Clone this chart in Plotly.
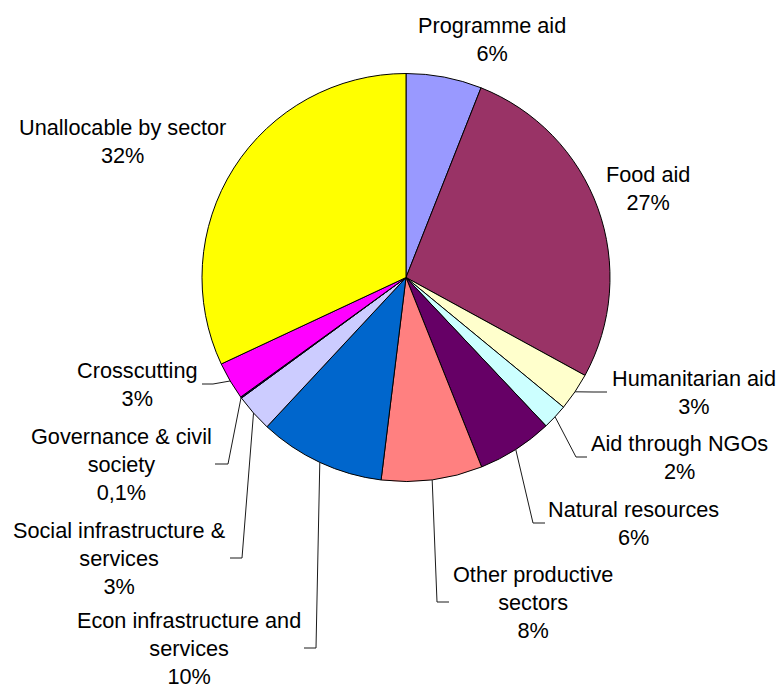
import math
import plotly.graph_objects as go

# ---- data -------------------------------------------------------------
sectors = [
    "Programme aid",
    "Food aid",
    "Humanitarian aid",
    "Aid through NGOs",
    "Natural resources",
    "Other productive sectors",
    "Econ infrastructure and services",
    "Social infrastructure & services",
    "Governance & civil society",
    "Crosscutting",
    "Unallocable by sector",
]
shares = [6, 27, 3, 2, 6, 8, 10, 3, 0.1, 3, 32]

# wrapped text shown next to each slice
label_text = [
    "Programme aid",
    "Food aid",
    "Humanitarian aid",
    "Aid through NGOs",
    "Natural resources",
    "Other productive<br>sectors",
    "Econ infrastructure and<br>services",
    "Social infrastructure &<br>services",
    "Governance & civil<br>society",
    "Crosscutting",
    "Unallocable by sector",
]

colors = [
    "#9999FF", "#993366", "#FFFFCC", "#CCFFFF", "#660066", "#FF8080",
    "#0066CC", "#CCCCFF", "#000080", "#FF00FF", "#FFFF00",
]

# ---- layout (pixels) --------------------------------------------------
W, H = 783, 690
CX, CY, R = 406, 277.5, 204

# label block centre (x, y) and leader line (elbow x, end x) or None
label_layout = [
    (492, 39, None),
    (647.5, 189, None),
    (693.7, 392, (593, 607)),
    (679.5, 457, (576, 587)),
    (633.8, 523, (533, 545)),
    (533, 602, (437, 449)),
    (188.5, 648, (316, 304)),
    (119.7, 558, (242, 230)),
    (121.5, 464, (228, 215)),
    (137, 384, (213, 202)),
    (122.8, 142, None),
]

FONT = "Liberation Sans, Arial, sans-serif"


def px(x):
    return x / W


def py(y):
    return 1 - y / H


total = sum(shares)


def pct_text(v):
    p = v / total * 100
    s = f"{p:.1f}" if p < 1 else f"{p:.0f}"
    return s.replace(".", ",") + "%"


fig = go.Figure(
    go.Pie(
        labels=sectors,
        values=shares,
        sort=False,
        direction="clockwise",
        rotation=0,
        textinfo="none",
        hoverinfo="label+percent",
        marker=dict(colors=colors, line=dict(color="#000000", width=1)),
        domain=dict(x=[px(CX - R), px(CX + R)], y=[py(CY + R), py(CY - R)]),
        showlegend=False,
    )
)

annotations = []
shapes = []
cum = 0.0
for name, v, txt, (lx, ly, leader) in zip(sectors, shares, label_text, label_layout):
    mid = (cum + v / 2) / total * 2 * math.pi
    cum += v
    annotations.append(
        dict(
            x=px(lx), y=py(ly), xref="paper", yref="paper",
            xanchor="center", yanchor="middle", align="center",
            showarrow=False,
            text=f"{txt}<br>{pct_text(v)}",
            font=dict(family=FONT, size=21.7, color="#000000"),
        )
    )
    if leader is not None:
        sx = CX + R * math.sin(mid)
        sy = CY - R * math.cos(mid)
        ex, endx = leader
        shapes.append(
            dict(
                type="path", xref="paper", yref="paper",
                path=f"M {px(sx)} {py(sy)} L {px(ex)} {py(ly)} L {px(endx)} {py(ly)}",
                line=dict(color="#1a1a1a", width=1),
            )
        )

fig.update_layout(
    width=W, height=H,
    margin=dict(l=0, r=0, t=0, b=0),
    paper_bgcolor="#FFFFFF",
    plot_bgcolor="#FFFFFF",
    annotations=annotations,
    shapes=shapes,
    font=dict(family=FONT),
)

fig.write_html("out.html")
